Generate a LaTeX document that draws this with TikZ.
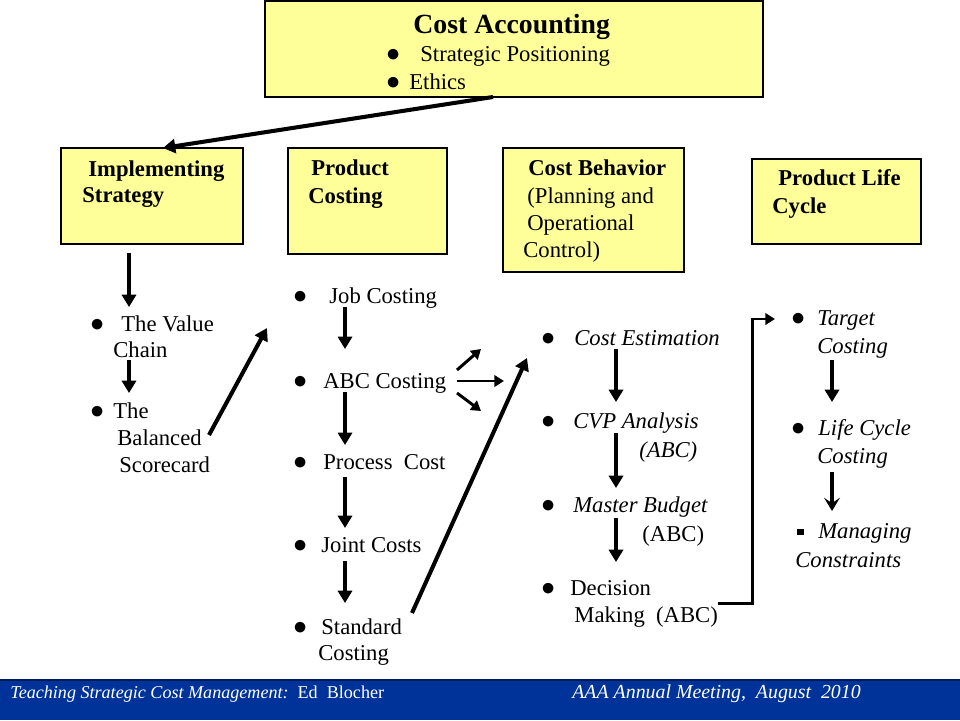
\documentclass[tikz,border=0pt]{standalone}
\usepackage{graphicx}
\usepackage{fontspec}
\setmainfont{Liberation Serif}
\usetikzlibrary{arrows.meta,fit}

\definecolor{boxyellow}{RGB}{255,255,153}
\definecolor{bandblue}{RGB}{0,51,153}
\definecolor{banddark}{RGB}{0,28,88}

\newlength\pxu
\setlength\pxu{0.02cm}
\newcommand\bul[1]{\makebox[#1\pxu][l]{\hspace{-2\pxu}\scalebox{1.3}{$\bullet$}}}

\begin{document}
\begin{tikzpicture}[x=0.02cm,y=-0.02cm,
    box/.style={draw,line width=0.7pt,fill=boxyellow,inner sep=0pt},
    txt/.style={anchor=base west,inner sep=0pt,font=\fontsize{12.9}{15}\selectfont},
    hd/.style={txt,font=\fontsize{12.9}{15}\selectfont\bfseries},
    itx/.style={txt,font=\fontsize{12.9}{15}\selectfont\itshape},
    arr/.style={line width=2.8pt,-{Triangle[length=7pt,width=8pt]}},
    darr/.style={line width=2.3pt,-{Triangle[length=7pt,width=8pt]}},
    sarr/.style={line width=1.7pt,-{Triangle[length=5.5pt,width=6.5pt]}},
    barb/.style={line width=2.8pt,-{Stealth[length=7.5pt,width=9pt,inset=3pt]}}]
\fill[white] (0,0) rectangle (960,720);
\useasboundingbox (0,0) rectangle (960,720);

% boxes
\node[box,fit={(265,1) (763,97)}] (top) {};
\node[box,fit={(61,148) (243,244)}] (impl) {};
\node[box,fit={(288,148) (447,254)}] (prod) {};
\node[box,fit={(503,148) (684,272)}] (behav) {};
\node[box,fit={(752,159) (921,244)}] (plc) {};

\node[txt,font=\fontsize{15.8}{18}\selectfont\bfseries] (ca) at (413,33) {Cost Accounting};
\node[txt] (stp) at (388,61) {\bul{32}Strategic Positioning};
\node[txt] (eth) at (388,89) {\bul{21}Ethics};

\node[hd] (impl1) at (88,176) {Implementing};
\node[hd] (impl2) at (82,202) {Strategy};
\node[hd] (prod1) at (311,175) {Product};
\node[hd] (prod2) at (308,203) {Costing};
\node[hd] (beh1) at (528,175) {Cost Behavior};
\node[txt] (beh2) at (527,203) {(Planning and};
\node[txt] (beh3) at (527,230) {Operational};
\node[txt] (beh4) at (523,257) {Control)};
\node[hd] (plc1) at (778,185) {Product Life};
\node[hd] (plc2) at (772,213) {Cycle};

% strategy column
\node[txt] (vc1) at (92,331) {\bul{29}The Value};
\node[txt] (vc2) at (113,357) {Chain};
\node[txt] (bs1) at (92,418) {\bul{21}The};
\node[txt] (bs2) at (117,445) {Balanced};
\node[txt] (bs3) at (119,472) {Scorecard};

% product costing column
\node[txt] (job) at (295,303) {\bul{34}Job Costing};
\node[txt] (abc) at (295,388) {\bul{28}ABC Costing};
\node[txt] (proc) at (295,469) {\bul{28}Process\ \ Cost};
\node[txt] (joint) at (295,552) {\bul{26}Joint Costs};
\node[txt] (std1) at (295,634) {\bul{26}Standard};
\node[txt] (std2) at (318,660) {Costing};

% cost behavior column
\node[itx] (est) at (543,345) {\bul{31}Cost Estimation};
\node[itx] (cvp1) at (543,428) {\bul{30}CVP Analysis};
\node[itx] (cvp2) at (639,457) {(ABC)};
\node[itx] (mb1) at (543,512) {\bul{30}Master Budget};
\node[txt] (mb2) at (642,541) {(ABC)};
\node[txt] (dm1) at (543,595) {\bul{27}Decision};
\node[txt] (dm2) at (574,622) {Making\ \ (ABC)};

% life cycle column
\node[itx] (tc1) at (793,325) {\bul{24}Target};
\node[itx] (tc2) at (817,353) {Costing};
\node[itx] (lc1) at (793,435) {\bul{25}Life Cycle};
\node[itx] (lc2) at (817,463) {Costing};
\node[itx] (mc1) at (797,538) {\makebox[21\pxu][l]{\raisebox{0.06cm}{\rule{0.13cm}{0.13cm}}}Managing};
\node[itx] (mc2) at (795,567) {Constraints};

% arrow ends
\foreach \n/\x/\y in {t1/493/97, t2/163/148,
    i1/129/253, i2/129/307, i3/129/360, i4/129/393, i5/209/435, i6/267/328,
    p1/345/307, p2/345/349, p3/345/392, p4/345/445, p5/345/477, p6/345/528,
    p7/345/561, p8/345/603, s1/412/613, s2/527/358,
    u0/457/370, u1/481/349, m0/457/381, m1/504/381, d0/457/393, d1/481/411,
    c1/616/349, c2/616/402, c3/616/433, c4/616/488, c5/616/518, c6/616/562,
    e1/718/603, k/752/319, e2/775/319,
    r1/832/360, r2/832/402, r3/832/472, r4/832/511}
  \coordinate (\n) at (\x,\y);

\draw[darr] (t1) -- (t2);
\foreach \a/\b in {i1/i2,i3/i4,p1/p2,p3/p4,p5/p6,p7/p8,c1/c2,c3/c4,c5/c6,r1/r2}
  \draw[arr] (\a) -- (\b);
\draw[darr] (i5) -- (i6);
\draw[darr] (s1) -- (s2);
\foreach \a/\b in {u0/u1,m0/m1,d0/d1}
  \draw[sarr] (\a) -- (\b);
\draw[sarr] (e1) -| (k) -- (e2);
\draw[barb] (r3) -- (r4);

% footer
\fill[bandblue] (0,680) rectangle (960,720);
\draw[banddark,line width=1pt] (0,680) -- (960,680);
\node[txt,text=white,font=\fontsize{10.3}{12}\selectfont] (ft1) at (10,698) {\textit{Teaching Strategic Cost Management:}\ \ Ed\ \ Blocher};
\node[txt,text=white,font=\fontsize{11.3}{13}\selectfont\itshape] (ft2) at (572,698) {AAA Annual Meeting,\ \ August\ \ 2010};
\end{tikzpicture}
\end{document}
